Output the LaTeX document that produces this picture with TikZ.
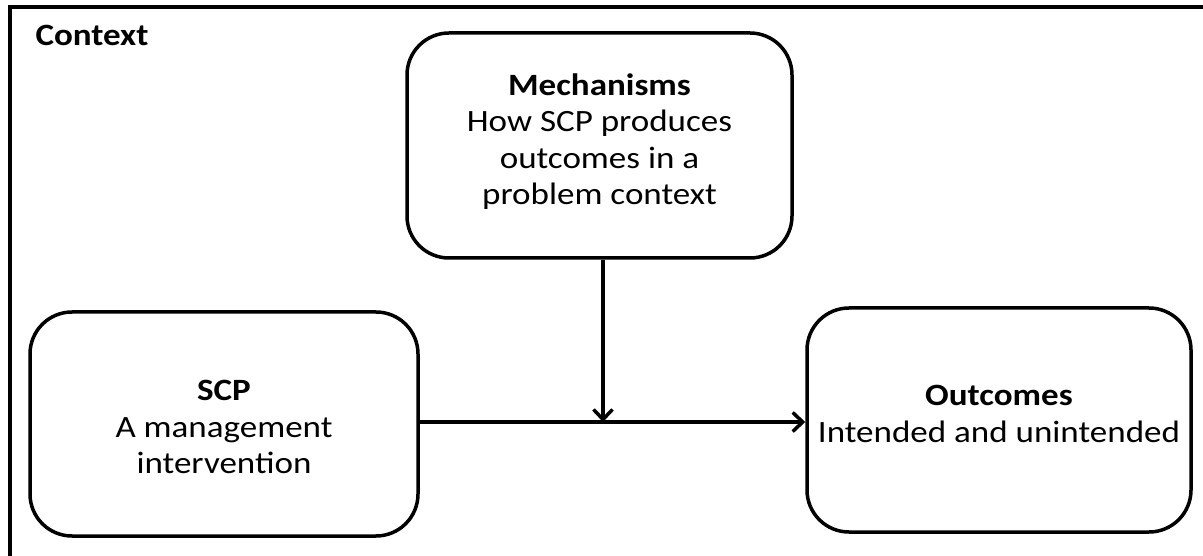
\documentclass[tikz,border=0pt]{standalone}
\usepackage{fontspec}
\setmainfont[FakeStretch=1.13]{Carlito}
\usetikzlibrary{arrows.meta}
\begin{document}
\begin{tikzpicture}[x=1pt,y=-1pt,
  box/.style={draw=black,line width=3.5pt,rounded corners=42pt,align=center,
    inner sep=0pt,font=\fontsize{31}{36.5}\selectfont},
  conn/.style={line width=3.5pt,-{Straight Barb[length=10pt,width=19pt,line width=3.5pt]}}]
\useasboundingbox (0,0) rectangle (1203,556);
\begin{scope}
\clip (0,0) rectangle (1203,556);
\draw[line width=3.8pt] (10,7) rectangle (1220,580);
\end{scope}
\node[anchor=base west,font=\fontsize{31}{36}\selectfont\bfseries] (ctx) at (32,46) {Context};
\node[box,minimum width=385pt,minimum height=225pt] (mech) at (599.5,145.5)
  {\textbf{Mechanisms}\\How SCP produces\\outcomes in a\\problem context\\[-24pt]};
\node[box,minimum width=388pt,minimum height=224pt] (scp) at (224,424)
  {\textbf{SCP}\\A management\\intervention\\[-42.5pt]};
\node[box,minimum width=384pt,minimum height=224pt] (out) at (999,420)
  {\textbf{Outcomes}\\Intended and unintended\\[-24pt]};
\coordinate (j) at (603,422);
\draw[conn] (scp.east |- j) -- (out.west |- j);
\draw[conn] (mech.south -| j) -- (j);
\end{tikzpicture}
\end{document}
